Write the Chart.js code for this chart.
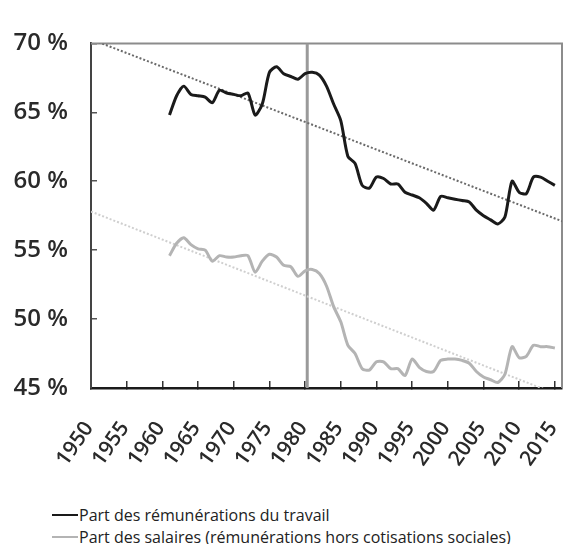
<!DOCTYPE html>
<html lang="fr">
<head>
<meta charset="utf-8">
<title>Part des rémunérations du travail</title>
<script src="https://cdn.jsdelivr.net/npm/chart.js@4.4.1/dist/chart.umd.min.js"></script>
<style>
  body { margin: 0; background: #fff; }
  #wrap { position: relative; width: 564px; height: 544px; }
  #legend {
    position: absolute;
    left: 52px;
    top: 504px;
    font-family: "Open Sans", sans-serif;
    font-size: 16px;
    color: #222;
  }
  .row { display: flex; align-items: center; height: 22px; }
  .swatch { width: 26px; height: 2px; margin-right: 1px; }
</style>
</head>
<body>
<div id="wrap">
  <canvas id="chart" width="564" height="480"></canvas>
  <div id="legend"></div>
</div>
<script>
// Years plotted (one point per year)
const years = [
  1961, 1962, 1963, 1964, 1965, 1966, 1967, 1968, 1969, 1970,
  1971, 1972, 1973, 1974, 1975, 1976, 1977, 1978, 1979, 1980,
  1981, 1982, 1983, 1984, 1985, 1986, 1987, 1988, 1989, 1990,
  1991, 1992, 1993, 1994, 1995, 1996, 1997, 1998, 1999, 2000,
  2001, 2002, 2003, 2004, 2005, 2006, 2007, 2008, 2009, 2010,
  2011, 2012, 2013, 2014, 2015,
];

// Part des rémunérations du travail (%)
const laborShare = [
  64.8, 66.2, 66.9, 66.3, 66.2, 66.1, 65.7, 66.6, 66.4, 66.3,
  66.2, 66.4, 64.8, 65.6, 67.9, 68.3, 67.8, 67.6, 67.4, 67.8,
  67.9, 67.7, 66.9, 65.6, 64.4, 61.8, 61.3, 59.7, 59.5, 60.3,
  60.2, 59.8, 59.8, 59.2, 59.0, 58.8, 58.4, 57.9, 58.9, 58.8,
  58.7, 58.6, 58.5, 57.9, 57.5, 57.2, 56.9, 57.4, 60.0, 59.2,
  59.1, 60.3, 60.3, 60.0, 59.7,
];

// Part des salaires (%)
const wageShare = [
  54.6, 55.5, 55.9, 55.4, 55.1, 55.0, 54.2, 54.6, 54.5, 54.5,
  54.6, 54.6, 53.4, 54.2, 54.7, 54.5, 53.9, 53.8, 53.1, 53.5,
  53.6, 53.3, 52.4, 50.9, 49.8, 48.1, 47.5, 46.4, 46.3, 46.9,
  46.9, 46.4, 46.4, 45.9, 47.1, 46.5, 46.2, 46.2, 47.0, 47.1,
  47.1, 47.0, 46.8, 46.2, 45.8, 45.6, 45.4, 46.0, 48.0, 47.2,
  47.3, 48.1, 48.0, 48.0, 47.9,
];

// Linear trends: [start, end] over trendYears
const trendYears = [1950, 2016];
const laborTrend = [70.3, 57.1];
const wageTrend = [57.8, 44.4];

// Marker year (vertical line)
const markerYear = 1980.3;

const xTicks = [1950, 1955, 1960, 1965, 1970, 1975, 1980, 1985, 1990, 1995, 2000, 2005, 2010, 2015];
const yTicks = [45, 50, 55, 60, 65, 70];

const labels = [
  "Part des rémunérations du travail",
  "Part des salaires (rémunérations hors cotisations sociales)",
];

const toPoints = (xs, ys) => xs.map((x, i) => ({ x, y: ys[i] }));

// Top and right frame lines
const frame = {
  id: "frame",
  beforeDatasetsDraw(chart) {
    const { ctx, chartArea: a } = chart;
    ctx.save();
    ctx.strokeStyle = "#8c8c8c";
    ctx.lineWidth = 2;
    ctx.beginPath();
    ctx.moveTo(a.left, a.top);
    ctx.lineTo(a.right, a.top);
    ctx.lineTo(a.right, a.bottom);
    ctx.stroke();
    ctx.restore();
  },
};

const chart = new Chart(document.getElementById("chart"), {
  type: "line",
  data: {
    datasets: [
      {
        label: labels[0],
        data: toPoints(years, laborShare),
        borderColor: "#1a1a1a",
        borderWidth: 3,
        pointRadius: 0,
        tension: 0.25,
        order: 1,
      },
      {
        label: labels[1],
        data: toPoints(years, wageShare),
        borderColor: "#b4b4b4",
        borderWidth: 3,
        pointRadius: 0,
        tension: 0.25,
        order: 2,
      },
      {
        label: "trend1",
        data: toPoints(trendYears, laborTrend),
        borderColor: "#6a6a6a",
        borderWidth: 2,
        borderDash: [2, 2],
        pointRadius: 0,
        order: 3,
      },
      {
        label: "trend2",
        data: toPoints(trendYears, wageTrend),
        borderColor: "#cfcfcf",
        borderWidth: 2,
        borderDash: [2, 2],
        pointRadius: 0,
        order: 4,
      },
      {
        label: "marker",
        data: [{ x: markerYear, y: yTicks[0] }, { x: markerYear, y: yTicks[yTicks.length - 1] }],
        borderColor: "#9a9a9a",
        borderWidth: 3,
        pointRadius: 0,
        order: 5,
      },
    ],
  },
  options: {
    responsive: false,
    animation: false,
    layout: { padding: { top: 25, right: 2 } },
    plugins: {
      legend: { display: false },
      tooltip: { enabled: false },
    },
    scales: {
      x: {
        type: "linear",
        min: trendYears[0],
        max: trendYears[1],
        afterFit: (s) => {
          s.height = 92;
          s.paddingLeft = 0;
          s.paddingRight = 0;
        },
        afterBuildTicks: (s) => {
          s.ticks = xTicks.map((v) => ({ value: v }));
        },
        border: { color: "#1a1a1a", width: 2.5 },
        grid: { drawOnChartArea: false, tickLength: -7, color: "#333", lineWidth: 1.5 },
        ticks: {
          autoSkip: false,
          minRotation: 55,
          maxRotation: 55,
          padding: 36,
          labelOffset: -2,
          color: "#2a2a2a",
          font: { family: "'Open Sans', sans-serif", size: 21, weight: 600 },
          callback: (v) => String(v),
        },
      },
      y: {
        min: yTicks[0],
        max: yTicks[yTicks.length - 1],
        afterFit: (s) => {
          s.width = 91;
        },
        afterBuildTicks: (s) => {
          s.ticks = yTicks.map((v) => ({ value: v }));
        },
        border: { color: "#444", width: 2 },
        grid: { drawOnChartArea: false, tickLength: -6, color: "#555", lineWidth: 1.5 },
        ticks: {
          padding: 29,
          color: "#2a2a2a",
          font: { family: "'Open Sans', sans-serif", size: 24, weight: 600 },
          callback: (v) => v + " %",
        },
      },
    },
  },
  plugins: [frame],
});

// Legend built from the two main series
const legendEl = document.getElementById("legend");
chart.data.datasets.slice(0, 2).forEach((ds) => {
  const row = document.createElement("div");
  row.className = "row";
  const sw = document.createElement("span");
  sw.className = "swatch";
  sw.style.background = ds.borderColor;
  const txt = document.createElement("span");
  txt.textContent = ds.label;
  row.appendChild(sw);
  row.appendChild(txt);
  legendEl.appendChild(row);
});
</script>
</body>
</html>
